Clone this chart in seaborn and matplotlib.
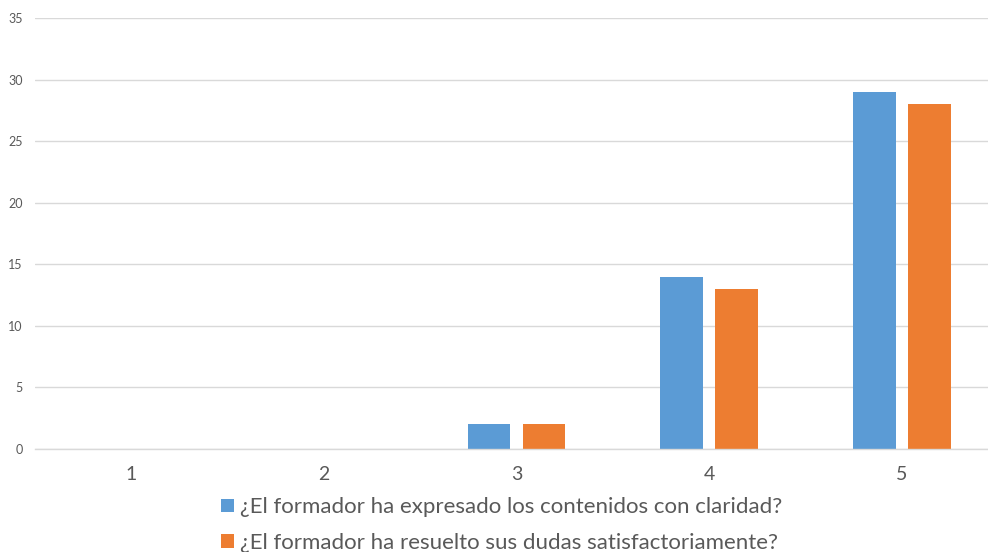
import matplotlib
matplotlib.use('Agg')
import matplotlib.pyplot as plt
import pandas as pd
import seaborn as sns

# datos
categorias = ['1', '2', '3', '4', '5']
serie_claridad = [0, 0, 2, 14, 29]
serie_dudas = [0, 0, 2, 13, 28]
etiquetas = ['¿El formador ha expresado los contenidos con claridad?',
             '¿El formador ha resuelto sus dudas satisfactoriamente?']
colores = ['#5B9BD5', '#ED7D31']

df = pd.DataFrame({
    'puntuacion': categorias * 2,
    'respuestas': serie_claridad + serie_dudas,
    'pregunta': [etiquetas[0]] * len(categorias) + [etiquetas[1]] * len(categorias),
})

sns.set_theme(style='white')
plt.rcParams['font.family'] = ['Lato', 'DejaVu Sans']

fig = plt.figure(figsize=(9.88, 5.52), dpi=100)
ax = fig.add_axes([35 / 988, 103 / 552, 963 / 988, 431 / 552])

sns.barplot(data=df, x='puntuacion', y='respuestas', hue='pregunta',
            order=categorias, hue_order=etiquetas, palette=colores,
            width=0.57, gap=0.22, linewidth=0, saturation=1, ax=ax)

ax.set_xlim(-0.5, 4.5)
ax.set_ylim(0, 35)
ax.set_yticks(range(0, 36, 5))
ax.yaxis.grid(True, color='#D9D9D9', linewidth=1)
ax.set_axisbelow(True)
for lado in ['top', 'left', 'right']:
    ax.spines[lado].set_visible(False)
ax.spines['bottom'].set_color('#D9D9D9')
ax.spines['bottom'].set_linewidth(1)
ax.tick_params(axis='y', length=0, pad=9, labelsize=9, labelcolor='#595959')
ax.tick_params(axis='x', length=0, pad=12, labelsize=14, labelcolor='#595959')
ax.set_xlabel('')
ax.set_ylabel('')

handles, labels = ax.get_legend_handles_labels()
ax.get_legend().remove()
fig.legend(handles, labels, loc='center', bbox_to_anchor=(502 / 988, 1 - 525 / 552),
           ncol=1, frameon=False, fontsize=16, labelcolor='#595959',
           handlelength=0.55, handleheight=0.55, handletextpad=0.3, labelspacing=0.7,
           borderpad=0)

fig.savefig('out.png', dpi=100)
